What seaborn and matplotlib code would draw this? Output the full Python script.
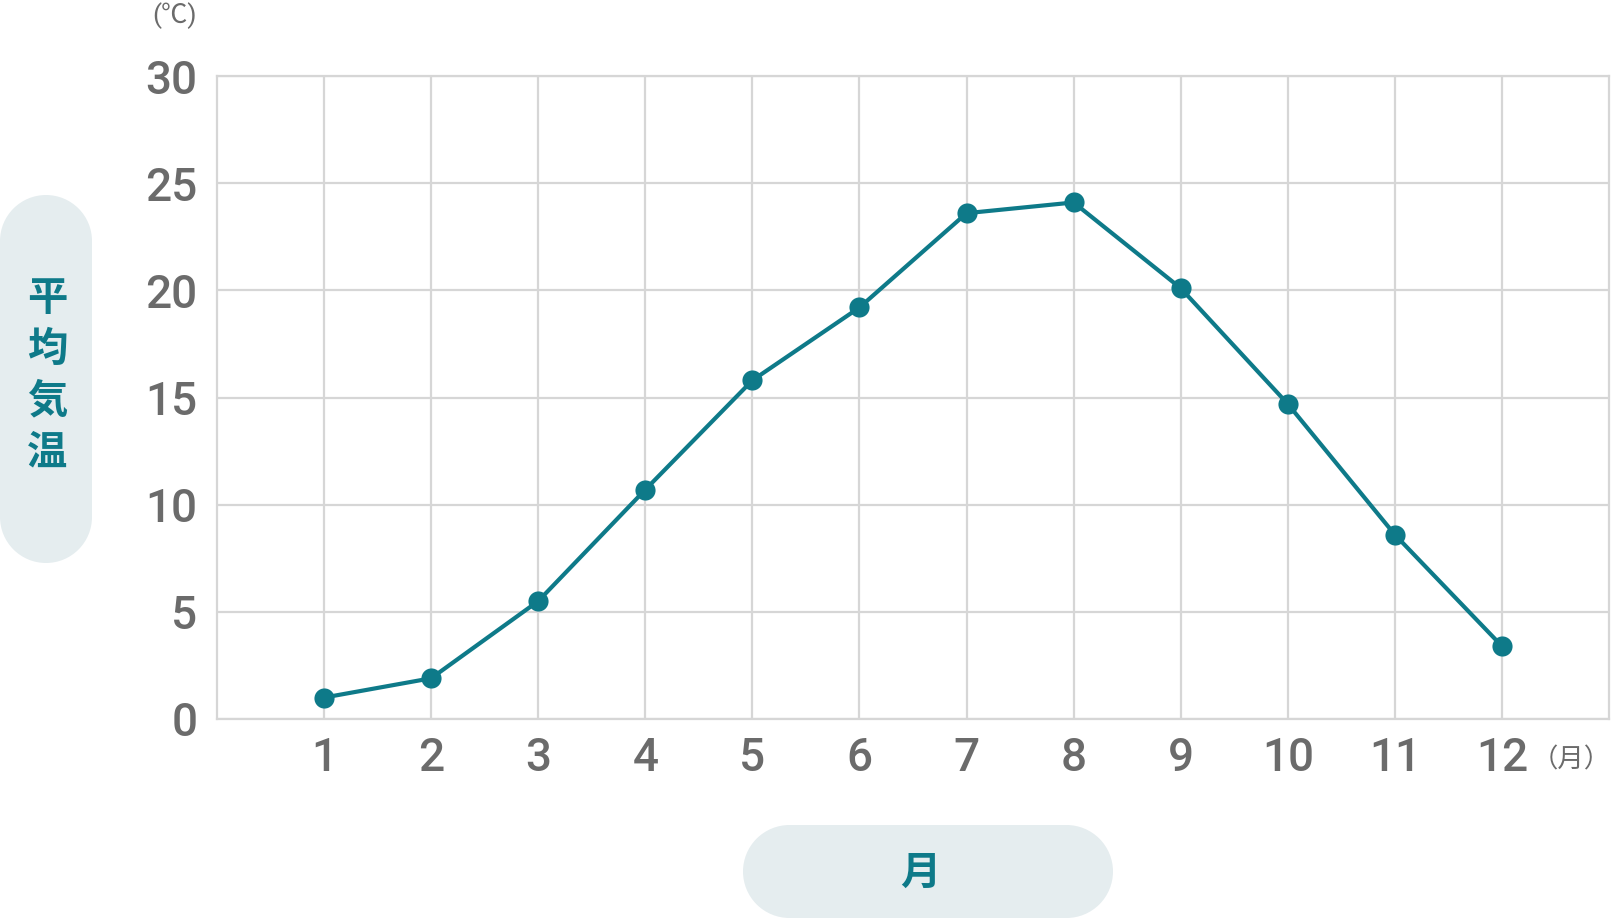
import matplotlib
matplotlib.use("Agg")
import matplotlib.pyplot as plt
import matplotlib.transforms as mtransforms
from matplotlib.patches import Rectangle, Circle
import seaborn as sns
import pandas as pd

# data
months = [1, 2, 3, 4, 5, 6, 7, 8, 9, 10, 11, 12]
temps = [1.0, 1.9, 5.5, 10.7, 15.8, 19.2, 23.6, 24.1, 20.1, 14.7, 8.6, 3.4]
yticks = [0, 5, 10, 15, 20, 25, 30]
ylabel_text = "平均気温"
xlabel_text = "月"
yunit = "(℃)"
xunit = "（月）"

teal = "#0e7a89"
pill = "#e5edef"
grid = "#d6d6d6"
tick_gray = "#6b6b6b"
cjk = ["Noto Sans CJK JP", "DejaVu Sans"]

sns.set_style("white")
plt.rcParams["font.family"] = ["Roboto", "Noto Sans CJK JP", "DejaVu Sans"]

df = pd.DataFrame({"month": months, "temp": temps})

fig = plt.figure(figsize=(16.12, 9.18), dpi=100)
ax = fig.add_axes([217 / 1612, 1 - 719 / 918, (1609 - 217) / 1612, (719 - 76) / 918])

sns.lineplot(data=df, x="month", y="temp", ax=ax, color=teal, linewidth=3,
             marker="o", markersize=14.5, markeredgewidth=0, zorder=5)

ax.set_xlim(0, 13)
ax.set_ylim(0, 30)
ax.set_xticks(months)
ax.set_yticks(yticks)
ax.grid(True, color=grid, linewidth=1.6)
for s in ax.spines.values():
    s.set_color(grid)
    s.set_linewidth(1.6)
ax.tick_params(length=0, colors=tick_gray, labelsize=33)
ax.tick_params(axis="y", pad=14)
ax.tick_params(axis="x", pad=12)
for lab in ax.get_xticklabels() + ax.get_yticklabels():
    lab.set_fontweight("medium")
ax.set_xlabel("")
ax.set_ylabel("")

# units
fig.text(174 / 1612, 1 - 16 / 918, yunit, ha="center", va="center",
         fontsize=19, color=tick_gray)
fig.text(1571 / 1612, 1 - 760 / 918, xunit, ha="center", va="center",
         fontsize=19, color=tick_gray, family=cjk)


# stadium shaped pills drawn in pixel coordinates
def stadium(x0, y0, w, h, vertical):
    ident = mtransforms.IdentityTransform()
    r = (w if vertical else h) / 2
    if vertical:
        parts = [Rectangle((x0, y0 + r), w, h - 2 * r),
                 Circle((x0 + r, y0 + r), r), Circle((x0 + r, y0 + h - r), r)]
    else:
        parts = [Rectangle((x0 + r, y0), w - 2 * r, h),
                 Circle((x0 + r, y0 + r), r), Circle((x0 + w - r, y0 + r), r)]
    for p in parts:
        p.set_transform(ident)
        p.set_facecolor(pill)
        p.set_edgecolor("none")
        fig.patches.append(p)


stadium(0, 918 - 563, 92, 368, True)
stadium(743, 0, 370, 93, False)

for i, ch in enumerate(ylabel_text):
    fig.text(47 / 1612, 1 - (298 + i * 51.5) / 918, ch, ha="center", va="center",
             fontsize=29, fontweight="bold", color=teal, family=cjk)
fig.text(920 / 1612, 1 - 873 / 918, xlabel_text, ha="center", va="center",
         fontsize=29, fontweight="bold", color=teal, family=cjk)

fig.savefig("out.png", dpi=100)
